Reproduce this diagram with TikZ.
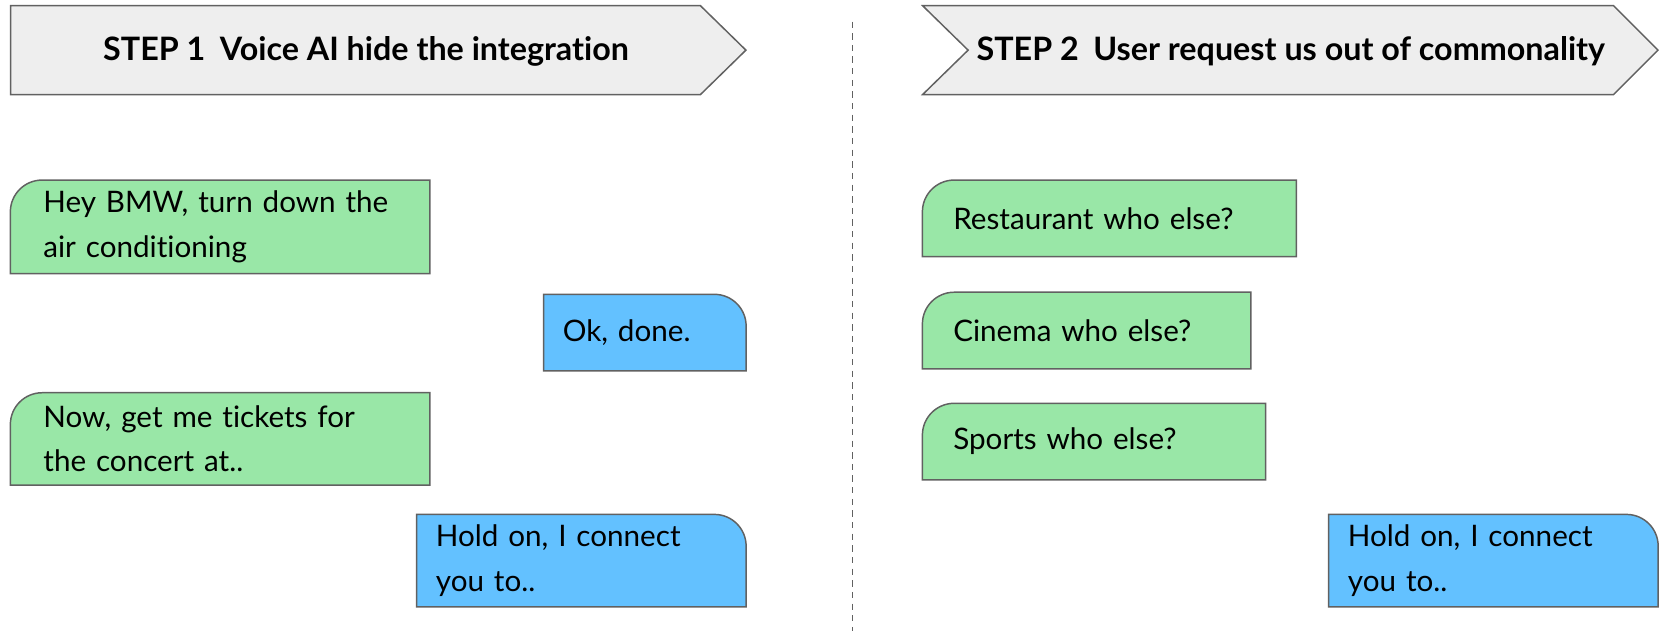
\documentclass[tikz,border=0pt]{standalone}
\usepackage{fontspec}
\setmainfont{Lato}[Ligatures={NoCommon,NoRare}]
\usetikzlibrary{backgrounds, positioning}

\definecolor{usergreen}{HTML}{99E7A7}
\definecolor{botblue}{HTML}{63C1FF}
\definecolor{headgray}{HTML}{EEEEEE}
\definecolor{edgegray}{HTML}{616161}

\tikzset{
  headbox/.style={draw=edgegray, fill=headgray, line width=1.4pt, line join=miter},
  headtext/.style={inner sep=0pt, font=\bfseries\fontsize{30.5}{36}\selectfont},
  msg/.style={inner sep=0pt, align=left, font=\fontsize{28}{42}\selectfont},
  bubble/.style={draw=edgegray, line width=1.4pt},
  divider/.style={draw=edgegray, line width=1.3pt, dash pattern=on 6pt off 5pt},
}

\begin{document}
\begin{tikzpicture}[x=1pt, y=1pt]
\useasboundingbox (0,0) rectangle (1568,596.4);

% headers
\draw[headbox] (10,591) -- (662,591) -- (705,549) -- (662,507) -- (10,507) -- cycle;
\draw[headbox] (872,591) -- (1525,591) -- (1567,549) -- (1525,507) -- (872,507) -- (915,549) -- cycle;
\node[headtext] (step1) at (346,548) {STEP 1\hspace{0.45em}Voice AI hide the integration};
\node[headtext] (step2) at (1220,548) {STEP 2\hspace{0.45em}User request us out of commonality};

% divider
\coordinate (divtop) at (806,576);
\coordinate (divbot) at (806,0);
\draw[divider] (divtop) -- (divbot);

% step 1 dialogue
\node[msg, minimum width=396pt, minimum height=88pt, text width=334pt] (hey) at (208,382) {Hey BMW, turn down the\\air conditioning};
\node[msg, minimum width=191pt, minimum height=72pt, text width=155pt] (ok) at (609.5,282) {Ok, done.};
\node[msg, minimum width=396pt, minimum height=87pt, text width=334pt] (now) at (208,181.5) {Now, get me tickets for\\the concert at..};
\node[msg, minimum width=311pt, minimum height=87pt, text width=275pt] (hold1) at (549.5,66.5) {Hold on, I connect\\you to..};

% step 2 dialogue
\node[msg, minimum width=353pt, minimum height=72pt, text width=295pt] (rest) at (1048.5,390) {Restaurant who else?};
\node[msg, minimum width=310pt, minimum height=72pt, text width=252pt] (cine) at (1027,284) {Cinema who else?};
\node[msg, minimum width=324pt, minimum height=72pt, text width=266pt] (sport) at (1034,179) {Sports who else?};
\node[msg, minimum width=311pt, minimum height=87pt, text width=275pt] (hold2) at (1411.5,66.5) {Hold on, I connect\\you to..};

% bubbles
\begin{scope}[on background layer]
\foreach \n in {hey,now,rest,cine,sport}
  \draw[bubble, fill=usergreen] (\n.south west) -- ([yshift=-30pt]\n.north west)
    arc[start angle=180, end angle=90, radius=30pt] -- (\n.north east) -- (\n.south east) -- cycle;
\foreach \n in {ok,hold1,hold2}
  \draw[bubble, fill=botblue] (\n.south west) -- (\n.north west) -- ([xshift=-30pt]\n.north east)
    arc[start angle=90, end angle=0, radius=30pt] -- (\n.south east) -- cycle;
\end{scope}
\end{tikzpicture}
\end{document}
